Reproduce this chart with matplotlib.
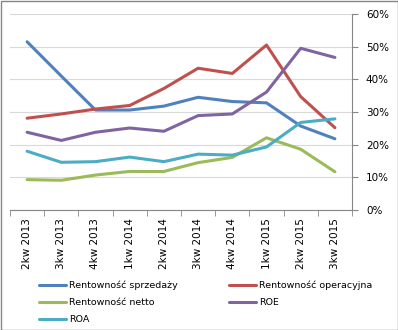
import matplotlib.pyplot as plt
from matplotlib.patches import Rectangle
from matplotlib.ticker import FixedLocator, FuncFormatter

quarters = ["2kw 2013", "3kw 2013", "4kw 2013", "1kw 2014", "2kw 2014",
            "3kw 2014", "4kw 2014", "1kw 2015", "2kw 2015", "3kw 2015"]

# wskazniki w %
sprzedazy = [51.5, 41.0, 30.6, 30.6, 31.8, 34.5, 33.2, 32.8, 25.7, 21.8]
operacyjna = [28.1, 29.4, 30.9, 32.0, 37.2, 43.4, 41.8, 50.5, 34.7, 25.2]
netto = [9.3, 9.1, 10.7, 11.8, 11.8, 14.5, 16.1, 22.1, 18.6, 11.7]
roe = [23.8, 21.3, 23.8, 25.1, 24.1, 28.9, 29.4, 36.1, 49.5, 46.7]
roa = [18.0, 14.6, 14.8, 16.2, 14.8, 17.1, 16.8, 19.3, 26.8, 27.9]

names = ["Rentowność sprzedaży", "Rentowność operacyjna", "Rentowność netto", "ROE", "ROA"]
colors = ["#4F81BD", "#C0504D", "#9BBB59", "#8064A2", "#4BACC6"]

plt.rcParams['font.family'] = ['DejaVu Sans']

fig = plt.figure(figsize=(3.98, 3.30), dpi=100)
ax = fig.add_axes([10/398, 1 - 210/330, 342/398, 196/330])

x = range(len(quarters))
lines = []
for vals, c in zip([sprzedazy, operacyjna, netto, roe, roa], colors):
    l, = ax.plot(x, vals, color=c, lw=2.2, solid_capstyle='round')
    lines.append(l)

ax.set_xlim(-0.5, len(quarters) - 0.5)
ax.set_ylim(0, 60)
ax.yaxis.tick_right()
ax.set_yticks(range(0, 61, 10))
ax.yaxis.set_major_formatter(FuncFormatter(lambda v, p: f"{int(v)}%"))
ax.grid(axis='y', color='#D9D9D9', lw=0.8)
ax.set_axisbelow(True)

ax.set_xticks(list(x))
ax.set_xticklabels(quarters, rotation=90, fontsize=7.5)
ax.xaxis.set_minor_locator(FixedLocator([i - 0.5 for i in range(len(quarters) + 1)]))
ax.tick_params(axis='x', which='major', length=0, pad=6)
ax.tick_params(axis='x', which='minor', length=4, color='#868686', direction='out')
ax.tick_params(axis='y', length=4, color='#868686', labelsize=7.5, pad=6)

for s in ['left', 'top']:
    ax.spines[s].set_visible(False)
for s in ['right', 'bottom']:
    ax.spines[s].set_color('#868686')
    ax.spines[s].set_linewidth(0.8)

order = [0, 2, 4, 1, 3]
fig.legend([lines[i] for i in order], [names[i] for i in order],
           ncol=2, loc='upper left', bbox_to_anchor=(39/398, 1 - 281/330),
           frameon=False, fontsize=6.8, handlelength=2.9, handletextpad=0.3,
           columnspacing=5.4, labelspacing=0.83, borderaxespad=0, borderpad=0)

fig.patches.append(Rectangle((0.5/398, 0.5/330), 397/398, 329/330, transform=fig.transFigure,
                             fill=False, edgecolor='#868686', lw=1))

fig.savefig("out.png", dpi=100)
